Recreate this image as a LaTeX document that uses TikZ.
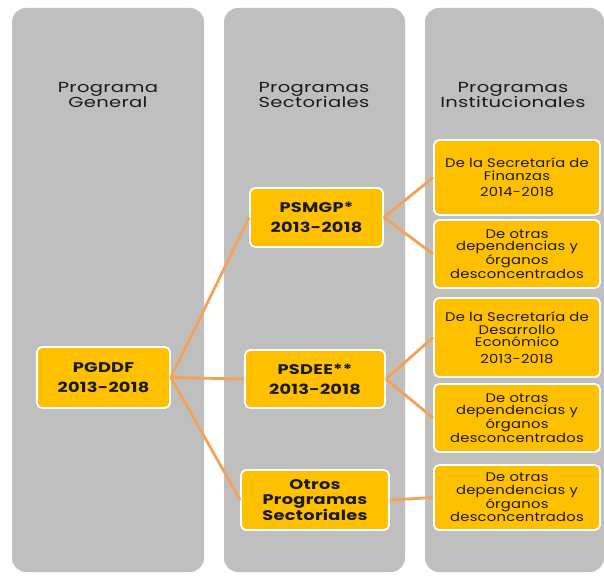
\documentclass[tikz,border=0pt]{standalone}
\usepackage{fontspec}
\setmainfont{Poppins}
\newfontfamily\hdrfont[FakeStretch=1.35,LetterSpace=2]{Poppins}
\newfontfamily\boxfont[FakeStretch=1.18,LetterSpace=2]{Poppins}
\newfontfamily\secfont[FakeStretch=1.27,LetterSpace=2]{Poppins}
\newcommand\mytightlines{\lineskiplimit=-20pt\relax\lineskip=0pt\relax}
\definecolor{colgray}{HTML}{BFBFBF}
\definecolor{boxyellow}{HTML}{FFC000}
\definecolor{linkorange}{HTML}{F2A25A}
\definecolor{txtdark}{HTML}{1A1A1A}
\tikzset{
  column/.style={fill=colgray, rounded corners=14pt},
  header/.style={align=center, text=txtdark, font=\hdrfont\fontsize{14.5}{15}\selectfont\mytightlines, inner sep=0pt},
  ybox/.style={fill=boxyellow, draw=white, line width=1.8pt, rounded corners=5pt, align=center, text=txtdark, inner sep=0pt},
  secbox/.style={ybox, font=\secfont\bfseries\fontsize{14}{20}\selectfont},
  instbox/.style={ybox, font=\boxfont\fontsize{12.5}{12.5}\selectfont, minimum width=166pt},
  link/.style={draw=linkorange, line width=2.8pt}
}
\begin{document}
\begin{tikzpicture}[x=1pt,y=-1pt]
\useasboundingbox (0,0) rectangle (604,577);
\fill[white] (0,0) rectangle (604,577);
% columns
\fill[column] (12,8) rectangle (204,572);
\fill[column] (224,8) rectangle (405,572);
\fill[column] (425,8) rectangle (604,572);
% headers
\node[header] (h1) at (108,95) {Programa\\General};
\node[header] (h2) at (314,95) {Programas\\Sectoriales};
\node[header] (h3) at (513,95) {Programas\\Institucionales};
% boxes
\node[secbox, minimum width=133pt, minimum height=61pt] (pg) at (103.5,377.5) {PGDDF\\2013-2018};
\node[secbox, minimum width=133pt, minimum height=59pt] (ps1) at (316.5,217.5) {PSMGP*\\2013-2018};
\node[secbox, minimum width=140pt, minimum height=58pt] (ps2) at (315,379) {PSDEE**\\2013-2018};
\node[secbox, minimum width=148pt, minimum height=60pt, font=\secfont\bfseries\fontsize{14}{15.5}\selectfont] (ps3) at (315,500) {Otros\\Programas\\Sectoriales};
\node[instbox, minimum height=75pt] (i1) at (517,177.5) {De la Secretaría de\\Finanzas\\[4pt]2014-2018};
\node[instbox, minimum height=68pt] (i2) at (517,254) {De otras\\dependencias y\\órganos\\desconcentrados};
\node[instbox, minimum height=79pt] (i3) at (517,337.5) {De la Secretaría de\\Desarrollo\\Económico\\[4pt]2013-2018};
\node[instbox, minimum height=68pt] (i4) at (517,418) {De otras\\dependencias y\\órganos\\desconcentrados};
\node[instbox, minimum height=65pt] (i5) at (517,497.5) {De otras\\dependencias y\\órganos\\desconcentrados};
% connectors
\draw[link] (pg.east) -- (ps1.west);
\draw[link] (pg.east) -- (ps2.west);
\draw[link] (pg.east) -- (ps3.west);
\draw[link] (ps1.east) -- (i1.west);
\draw[link] (ps1.east) -- (i2.west);
\draw[link] (ps2.east) -- (i3.west);
\draw[link] (ps2.east) -- (i4.west);
\draw[link] (ps3.east) -- (i5.west);
\end{tikzpicture}
\end{document}
